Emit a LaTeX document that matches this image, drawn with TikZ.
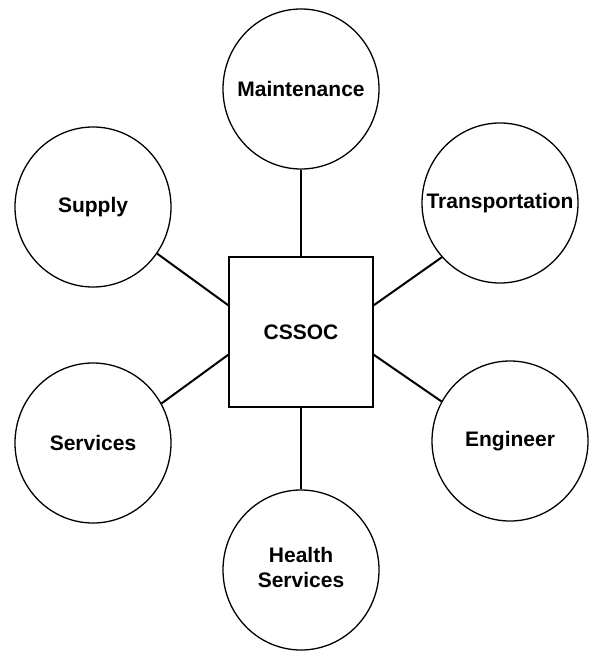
\documentclass[tikz,border=0pt]{standalone}
\usepackage{fontspec}
\setmainfont{Liberation Sans}
\usetikzlibrary{shapes.geometric}
\begin{document}
\begin{tikzpicture}[x=1pt,y=-1pt,
  every node/.style={font=\fontsize{21}{25}\selectfont\bfseries},
  unit/.style={ellipse,draw,line width=1.3pt,minimum width=156pt,minimum height=160pt,inner sep=0pt},
  hub/.style={rectangle,draw,line width=1.5pt,minimum width=144pt,minimum height=150pt,inner sep=0pt},
  link/.style={line width=2pt}]
\useasboundingbox (0,0) rectangle (593,652);
\node[hub] (sq) at (301,332) {CSSOC};
\node[unit] (maint) at (301,89) {\makebox[0pt]{Maintenance}};
\node[unit] (supply) at (93,207) {\makebox[0pt]{Supply}};
\node[unit] (trans) at (500,203) {\makebox[0pt]{Transportation}};
\node[unit] (serv) at (93,443) {\makebox[0pt]{Services}};
\node[unit] (eng) at (510,441) {\makebox[0pt]{Engineer}};
\node[unit] (health) at (301,570) {\makebox[0pt]{\begin{tabular}{@{}c@{}}Health\\Services\end{tabular}}};
\draw[link] (maint.south) -- (sq.north);
\draw[link] (supply.-36) -- ([yshift=-49pt]sq.north west);
\draw[link] (trans.223) -- ([yshift=-49pt]sq.north east);
\draw[link] (serv.30) -- ([yshift=53pt]sq.south west);
\draw[link] (eng.150) -- ([yshift=53pt]sq.south east);
\draw[link] (sq.south) -- (health.north);
\end{tikzpicture}
\end{document}
